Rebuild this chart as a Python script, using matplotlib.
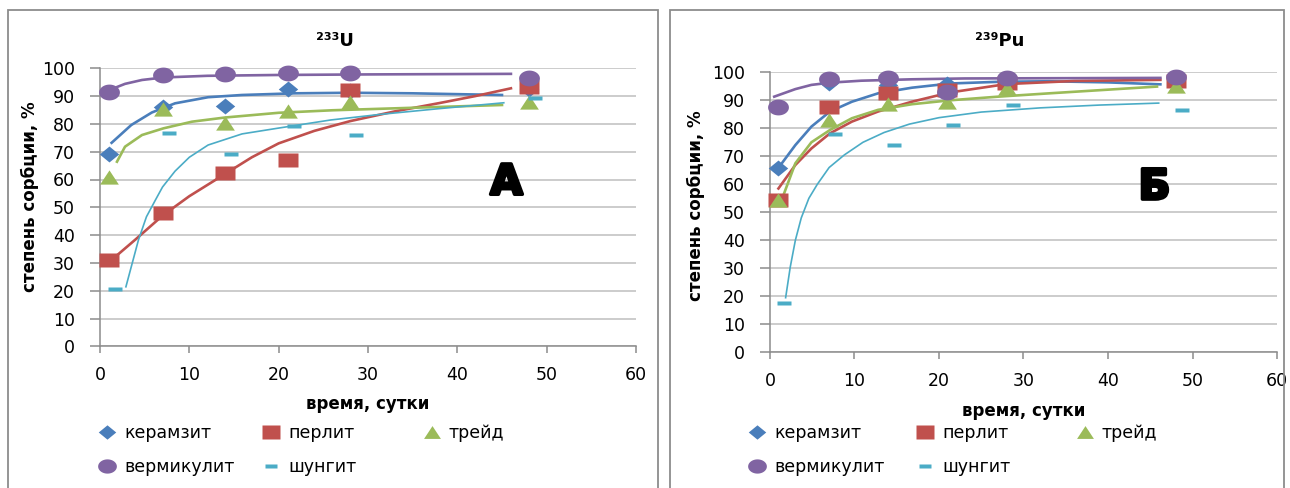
import numpy as np
import matplotlib
matplotlib.use("Agg")
import matplotlib.pyplot as plt
import matplotlib.patheffects as pe
from matplotlib.path import Path
from matplotlib.patches import Rectangle

W, H = 1290, 488

# measurement days
days = [1, 7, 14, 21, 28, 48]
shungit_days = [1.7, 7.7, 14.7, 21.7, 28.7, 48.7]

names = ["керамзит", "перлит", "трейд", "вермикулит", "шунгит"]
colors = ["#4A7EBB", "#C0504D", "#9BBB59", "#8064A2", "#4BACC6"]

# sorption degree, %  -- 233U
u_keramzit = [69, 86, 86.5, 92.5, 92, 92.5]
u_perlit = [31, 48, 62.5, 67, 92.2, 93.3]
u_treid = [60.8, 85.2, 80.3, 84.5, 88, 87.8]
u_vermikulit = [91.5, 97.6, 98, 98.2, 98.2, 96.6]
u_shungit = [20.6, 76.8, 69.3, 79.4, 75.9, 89.4]

# sorption degree, %  -- 239Pu
pu_keramzit = [65.7, 96.2, 95.5, 95.8, 97, 97.5]
pu_perlit = [54.4, 87.7, 92.5, 93.7, 96.3, 96.8]
pu_treid = [54.4, 83, 88.6, 89.5, 94.5, 95]
pu_vermikulit = [87.7, 97.6, 98.1, 93, 97.9, 98.4]
pu_shungit = [17.5, 78, 74, 81.2, 88.3, 86.5]

# trend curves, 233U
tr_u_keramzit_x = [1.3, 3.5, 5.8, 8.4, 12.1, 15.9, 21.8, 28, 35, 45]
tr_u_keramzit_y = [73.2, 79.6, 84.1, 87.4, 89.6, 90.4, 91.0, 91.2, 91.0, 90.4]
tr_u_perlit_x = [2, 4, 7, 10, 14, 17, 20, 24, 28, 33, 38, 42, 46]
tr_u_perlit_y = [33, 38.5, 47, 54, 62, 68, 73, 77.5, 81, 84.5, 87.5, 90, 92.8]
tr_u_treid_x = [1.9, 2.8, 4.7, 7.1, 10.3, 14, 20, 26, 33, 40, 45]
tr_u_treid_y = [66.4, 71.8, 76, 78.4, 80.8, 82.3, 84, 84.9, 85.6, 86.3, 86.8]
tr_u_vermikulit_x = [0.5, 2.8, 4.7, 7.1, 12, 20, 30, 46]
tr_u_vermikulit_y = [91.5, 94.4, 95.8, 96.7, 97.3, 97.6, 97.8, 98]
tr_u_shungit_x = [2.9, 3.5, 4.3, 5.2, 6.2, 7.0, 8.4, 10, 12.1, 15.9, 20, 25.8, 31.3, 38, 45.2]
tr_u_shungit_y = [21.4, 28.6, 38.2, 46.6, 52.6, 57.3, 63, 68, 72.4, 76.4, 78.5, 81.4, 83.4, 85.5, 87.6]

# trend curves, 239Pu
tr_pu_keramzit_x = [1.4, 3.0, 4.9, 7.1, 9.7, 12.8, 16.8, 21.3, 27, 33, 40, 46.2]
tr_pu_keramzit_y = [67.5, 74, 80.6, 86, 89.5, 92.5, 94.5, 96.0, 96.6, 96.8, 96.4, 95.7]
tr_pu_perlit_x = [1.0, 3.0, 4.9, 7.1, 9.7, 12.8, 16.8, 21.3, 28, 36, 46.2]
tr_pu_perlit_y = [58.5, 66.9, 72.8, 78.2, 82.4, 86, 89.5, 92.8, 95.8, 96.9, 97.3]
tr_pu_treid_x = [1.6, 3.0, 4.9, 7.1, 9.7, 12.8, 16.8, 21.3, 27, 33.1, 40, 45.8]
tr_pu_treid_y = [56.2, 67.5, 75, 79.4, 83.6, 86.6, 88.6, 90.0, 91.3, 92.5, 93.8, 94.9]
tr_pu_vermikulit_x = [0.5, 3.0, 4.9, 7.1, 10.8, 16.8, 23, 35, 46.2]
tr_pu_vermikulit_y = [91.3, 94, 95.5, 96.3, 97, 97.5, 97.8, 97.9, 98]
tr_pu_shungit_x = [1.85, 2.4, 3.0, 3.7, 4.6, 5.6, 7.0, 8.8, 11, 13.5, 16.5, 20, 25, 32, 39, 46]
tr_pu_shungit_y = [19.5, 30.5, 40, 48, 55, 60, 66, 70.5, 75, 78.5, 81.5, 83.8, 85.8, 87.3, 88.3, 89]

x_ticks = [0, 10, 20, 30, 40, 50, 60]
y_ticks = [0, 10, 20, 30, 40, 50, 60, 70, 80, 90, 100]


# slightly flattened marker shapes
def shape(verts):
    verts = list(verts) + [verts[0]]
    codes = [Path.MOVETO] + [Path.LINETO] * (len(verts) - 2) + [Path.CLOSEPOLY]
    return Path(verts, codes)


k = 0.76
t = np.linspace(0, 2 * np.pi, 48, endpoint=False)
m_diamond = shape([(0, 0.82), (1, 0), (0, -0.82), (-1, 0)])
m_square = shape([(-1, -k), (1, -k), (1, k), (-1, k)])
m_triangle = shape([(-1, -k), (1, -k), (0, k)])
m_circle = shape([(np.cos(a), k * np.sin(a)) for a in t])
m_dash = shape([(-1, -0.3), (1, -0.3), (1, 0.3), (-1, 0.3)])
markers = [m_diamond, m_square, m_triangle, m_circle, m_dash]
msizes = [14, 14, 13.5, 15, 9.8]

plt.rcParams["font.family"] = ["DejaVu Sans"]

fig = plt.figure(figsize=(W / 100, H / 100), dpi=100)

# panel frames
for x0, x1 in [(8, 658), (670, 1284)]:
    fig.patches.append(Rectangle((x0 / W, -0.05), (x1 - x0) / W, 1.05 - 10 / H,
                                 transform=fig.transFigure, fill=False,
                                 edgecolor="#8C8C8C", lw=1.3))


def draw_panel(ax, points, trends, title, title_x, letter, lbl_x, lbl_y, leg_x):
    xs = [days, days, days, days, shungit_days]
    handles = []
    for i, (tx, ty) in enumerate(trends):
        lw = 1.2 if i == 4 else 1.9
        ax.plot(tx, ty, color=colors[i], lw=lw, zorder=3)
    for i, ys in enumerate(points):
        h, = ax.plot(xs[i], ys, ls="none", marker=markers[i], ms=msizes[i],
                     mfc=colors[i], mec="none", zorder=4, clip_on=False)
        handles.append(h)

    ax.set_xlim(0, 60)
    ax.set_ylim(0, 100)
    ax.set_xticks(x_ticks)
    ax.set_yticks(y_ticks)
    ax.grid(axis="y", color="#BFBFBF", lw=1.1)
    ax.set_axisbelow(True)
    for s in ["top", "right"]:
        ax.spines[s].set_visible(False)
    for s in ["left", "bottom"]:
        ax.spines[s].set_color("#8C8C8C")
        ax.spines[s].set_linewidth(1.1)
    ax.tick_params(axis="x", length=5, width=1.1, color="#8C8C8C", pad=9, labelsize=12.5)
    ax.tick_params(axis="y", length=7, width=1.1, color="#8C8C8C", pad=11, labelsize=12.5)

    ax.set_xlabel("время, сутки", fontsize=12, fontweight="bold")
    ax.xaxis.set_label_coords(0.5, lbl_x)
    ax.set_ylabel("степень сорбции, %", fontsize=12, fontweight="bold")
    ax.yaxis.set_label_coords(lbl_y[0], lbl_y[1])

    fig.text(title_x / W, 1 - 41 / H, title, ha="center", va="center",
             fontsize=13, fontweight="bold")
    ax.text(45.5, 59, letter, ha="center", va="center", fontsize=30,
            fontweight="bold", color="black",
            path_effects=[pe.withStroke(linewidth=2.5, foreground="black")])

    cols = [[0, 3], [1, 4], [2]]
    for cx, idx in zip(leg_x, cols):
        fig.legend([handles[j] for j in idx], [names[j] for j in idx],
                   loc="upper left", bbox_to_anchor=(cx / W, 1 - 424 / H),
                   frameon=False, borderpad=0, borderaxespad=0,
                   handlelength=1.2, handletextpad=0.35, labelspacing=0.95,
                   markerscale=0.9, fontsize=12.5)


ax1 = fig.add_axes([100 / W, 1 - 346.3 / H, 536 / W, 278 / H])
ax2 = fig.add_axes([770 / W, 1 - 352.3 / H, 507 / W, 280 / H])

draw_panel(ax1,
           [u_keramzit, u_perlit, u_treid, u_vermikulit, u_shungit],
           [(tr_u_keramzit_x, tr_u_keramzit_y), (tr_u_perlit_x, tr_u_perlit_y),
            (tr_u_treid_x, tr_u_treid_y), (tr_u_vermikulit_x, tr_u_vermikulit_y),
            (tr_u_shungit_x, tr_u_shungit_y)],
           "²³³U", 335, "А", -0.175, (-0.114, 0.537), [97, 261, 422])

draw_panel(ax2,
           [pu_keramzit, pu_perlit, pu_treid, pu_vermikulit, pu_shungit],
           [(tr_pu_keramzit_x, tr_pu_keramzit_y), (tr_pu_perlit_x, tr_pu_perlit_y),
            (tr_pu_treid_x, tr_pu_treid_y), (tr_pu_vermikulit_x, tr_pu_vermikulit_y),
            (tr_pu_shungit_x, tr_pu_shungit_y)],
           "²³⁹Pu", 1000, "Б", -0.178, (-0.128, 0.522), [747, 915, 1075])

fig.savefig("out.png", dpi=100)
